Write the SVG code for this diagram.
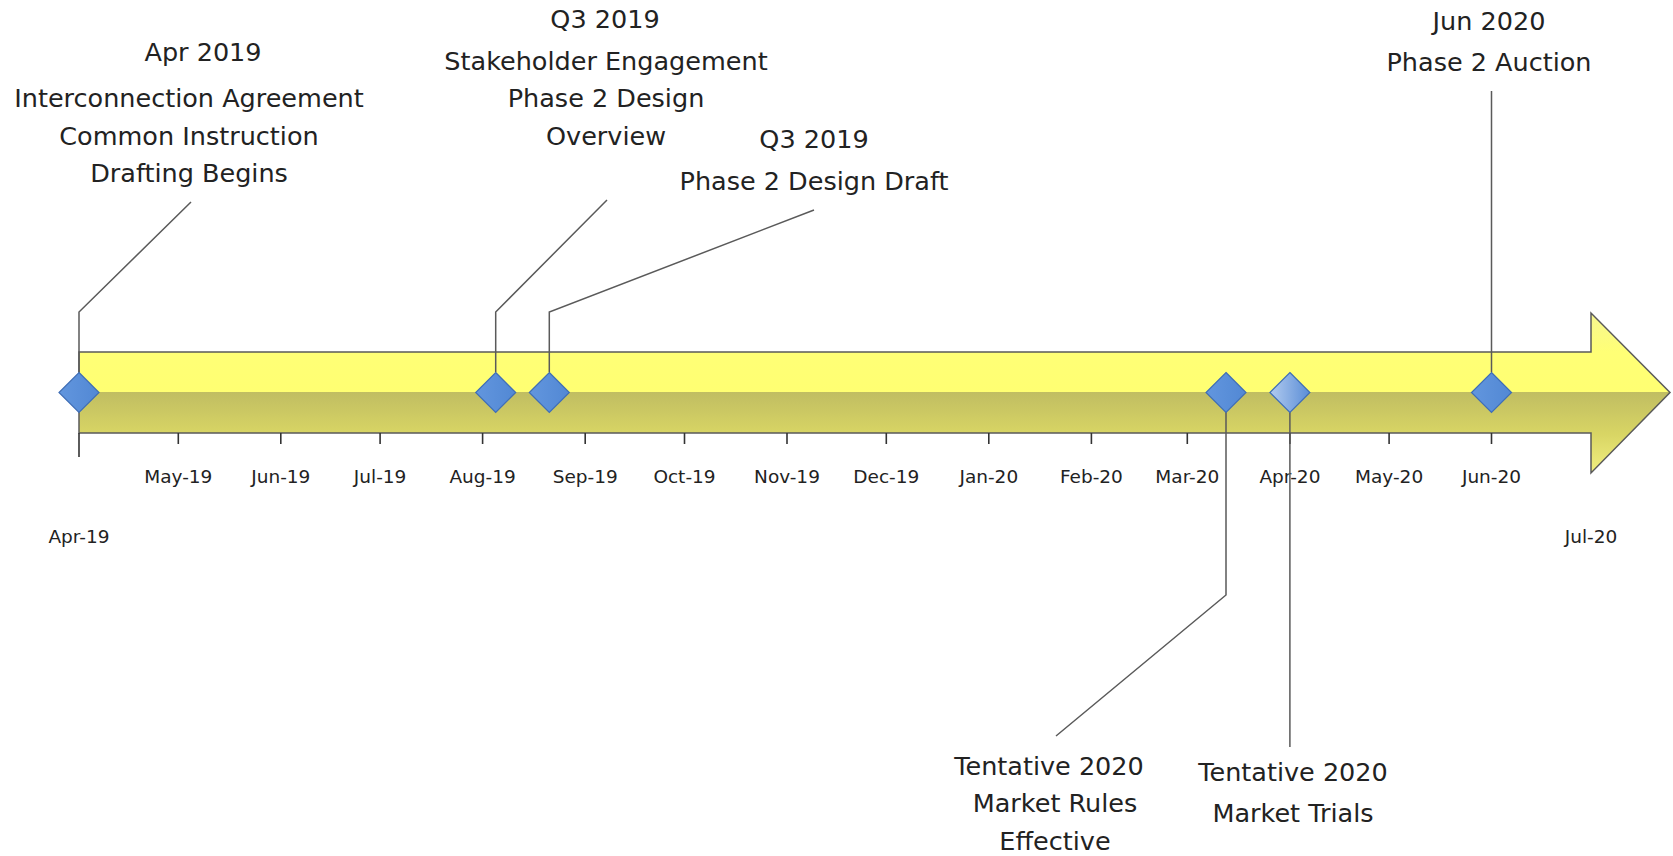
<svg xmlns="http://www.w3.org/2000/svg" width="1673" height="856" viewBox="0 0 1673 856">
<defs>
<linearGradient id="barGrad" gradientUnits="userSpaceOnUse" x1="0" y1="313" x2="0" y2="474">
<stop offset="0" stop-color="#F6F690"/>
<stop offset="0.24" stop-color="#FFFF76"/>
<stop offset="0.49" stop-color="#FFFF72"/>
<stop offset="0.49" stop-color="#C0BD62"/>
<stop offset="0.75" stop-color="#D8D564"/>
<stop offset="1" stop-color="#F2F080"/>
</linearGradient>
<linearGradient id="dia" x1="0" y1="0" x2="1" y2="0">
<stop offset="0" stop-color="#6296DE"/>
<stop offset="1" stop-color="#5288D4"/>
</linearGradient>
<linearGradient id="diaLight" x1="0" y1="0" x2="1" y2="0">
<stop offset="0" stop-color="#B2CBEF"/>
<stop offset="1" stop-color="#5A8DD6"/>
</linearGradient>
<path id="diamond" d="M0,-20 L20,0 L0,20 L-20,0 Z"/>
</defs>
<style>
text { font-family: "DejaVu Sans", "Liberation Sans", sans-serif; fill: #222; text-anchor: middle; }
.big { font-size: 25.5px; }
.tick { font-size: 18.5px; }
.lead { fill: none; stroke: #5a5a5a; stroke-width: 1.5; }
.tk { stroke: #333; stroke-width: 1.6; }
.dm { fill: url(#dia); stroke: #3F6EB6; stroke-width: 1.2; }
.dmL { fill: url(#diaLight); stroke: #3F6EB6; stroke-width: 1.2; }
</style>
<rect width="1673" height="856" fill="#fff"/>

<g id="timeline-bar">
<polygon points="79,352 1591,352 1591,313 1670,392.5 1591,473 1591,433 79,433" fill="url(#barGrad)" stroke="#5a5a5a" stroke-width="1.5"/>
</g>

<g id="axis">
<line class="tk" x1="79" y1="433" x2="79" y2="457"/>
<line class="tk" x1="178.3" y1="433" x2="178.3" y2="444"/>
<line class="tk" x1="280.8" y1="433" x2="280.8" y2="444"/>
<line class="tk" x1="380.1" y1="433" x2="380.1" y2="444"/>
<line class="tk" x1="482.6" y1="433" x2="482.6" y2="444"/>
<line class="tk" x1="585.2" y1="433" x2="585.2" y2="444"/>
<line class="tk" x1="684.5" y1="433" x2="684.5" y2="444"/>
<line class="tk" x1="787" y1="433" x2="787" y2="444"/>
<line class="tk" x1="886.3" y1="433" x2="886.3" y2="444"/>
<line class="tk" x1="988.8" y1="433" x2="988.8" y2="444"/>
<line class="tk" x1="1091.4" y1="433" x2="1091.4" y2="444"/>
<line class="tk" x1="1187.3" y1="433" x2="1187.3" y2="444"/>
<line class="tk" x1="1289.9" y1="433" x2="1289.9" y2="444"/>
<line class="tk" x1="1389.1" y1="433" x2="1389.1" y2="444"/>
<line class="tk" x1="1491.5" y1="433" x2="1491.5" y2="444"/>
<text class="tick" x="79" y="543">Apr-19</text>
<text class="tick" x="178.3" y="483">May-19</text>
<text class="tick" x="280.8" y="483">Jun-19</text>
<text class="tick" x="380.1" y="483">Jul-19</text>
<text class="tick" x="482.6" y="483">Aug-19</text>
<text class="tick" x="585.2" y="483">Sep-19</text>
<text class="tick" x="684.5" y="483">Oct-19</text>
<text class="tick" x="787" y="483">Nov-19</text>
<text class="tick" x="886.3" y="483">Dec-19</text>
<text class="tick" x="988.8" y="483">Jan-20</text>
<text class="tick" x="1091.4" y="483">Feb-20</text>
<text class="tick" x="1187.3" y="483">Mar-20</text>
<text class="tick" x="1289.9" y="483">Apr-20</text>
<text class="tick" x="1389.1" y="483">May-20</text>
<text class="tick" x="1491.5" y="483">Jun-20</text>
<text class="tick" x="1591" y="543">Jul-20</text>
</g>

<g id="connectors">
<polyline class="lead" points="79,372 79,312 191,202"/>
<polyline class="lead" points="495.7,372 495.7,312 607,200"/>
<polyline class="lead" points="549.3,372 549.3,312 814,210"/>
<polyline class="lead" points="1491.5,372 1491.5,91"/>
<polyline class="lead" points="1226,412 1226,595 1056,736"/>
<polyline class="lead" points="1289.9,412 1289.9,747"/>
</g>

<g id="m-apr2019">
<use href="#diamond" class="dm" x="79" y="392.5"/>
<text class="big" x="203" y="61">Apr 2019</text>
<text class="big" x="189" y="107">Interconnection Agreement</text>
<text class="big" x="189" y="145">Common Instruction</text>
<text class="big" x="189" y="182">Drafting Begins</text>
</g>

<g id="m-stakeholder">
<use href="#diamond" class="dm" x="495.7" y="392.5"/>
<text class="big" x="605" y="28">Q3 2019</text>
<text class="big" x="606" y="70">Stakeholder Engagement</text>
<text class="big" x="606" y="107">Phase 2 Design</text>
<text class="big" x="606" y="145">Overview</text>
</g>

<g id="m-design-draft">
<use href="#diamond" class="dm" x="549.3" y="392.5"/>
<text class="big" x="814" y="148">Q3 2019</text>
<text class="big" x="814" y="190">Phase 2 Design Draft</text>
</g>

<g id="m-market-rules">
<use href="#diamond" class="dm" x="1226" y="392.5"/>
<text class="big" x="1049" y="775">Tentative 2020</text>
<text class="big" x="1055" y="812">Market Rules</text>
<text class="big" x="1055" y="850">Effective</text>
</g>

<g id="m-market-trials">
<use href="#diamond" class="dmL" x="1289.9" y="392.5"/>
<text class="big" x="1293" y="781">Tentative 2020</text>
<text class="big" x="1293" y="822">Market Trials</text>
</g>

<g id="m-auction">
<use href="#diamond" class="dm" x="1491.5" y="392.5"/>
<text class="big" x="1489" y="30">Jun 2020</text>
<text class="big" x="1489" y="71">Phase 2 Auction</text>
</g>
</svg>
